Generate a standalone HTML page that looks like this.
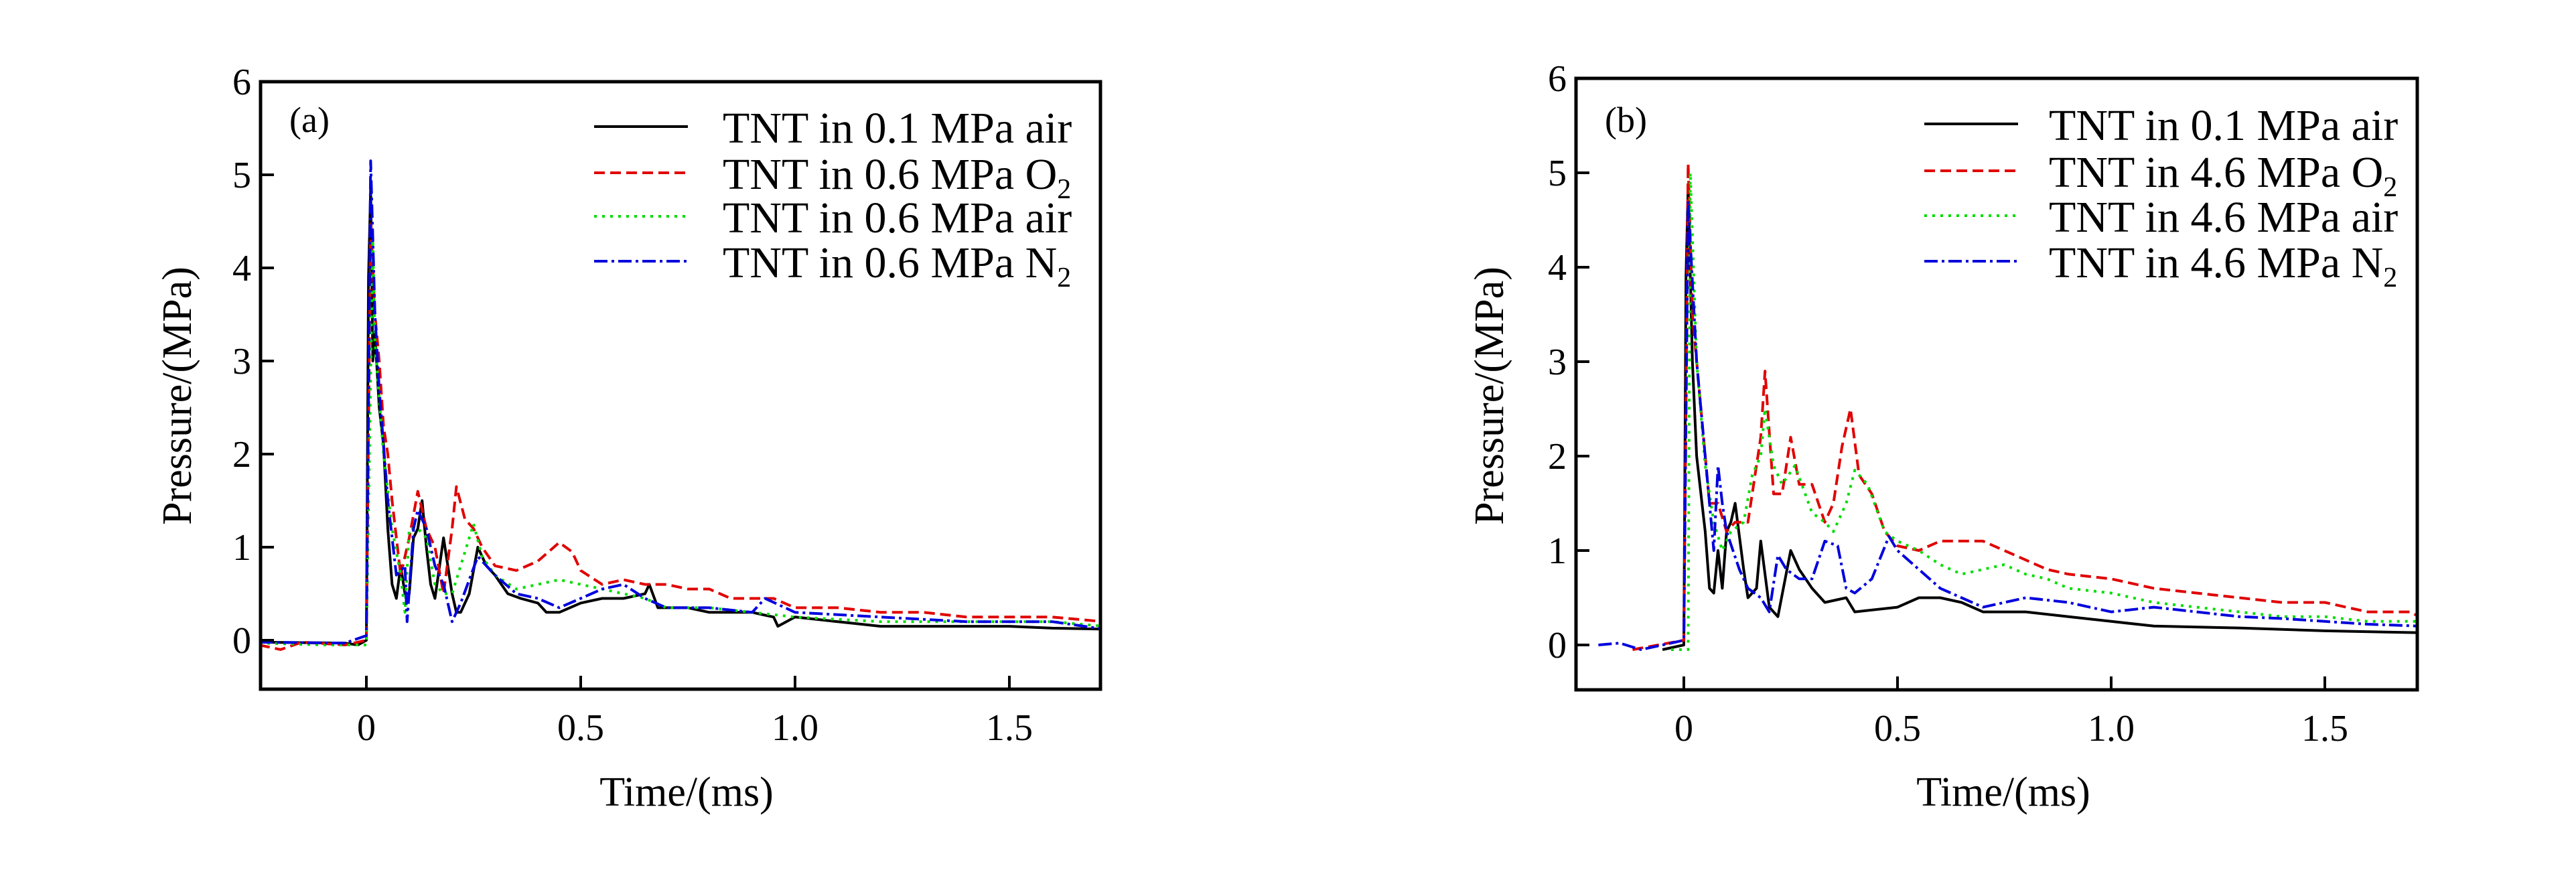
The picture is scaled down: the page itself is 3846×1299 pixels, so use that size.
<!DOCTYPE html>
<html><head><meta charset="utf-8"><style>
html,body{margin:0;padding:0;background:#fff;}
svg{display:block;}
svg text{font-family:"Liberation Serif","DejaVu Serif",serif;}
</style></head><body>
<svg id="fig" width="3846" height="1299" viewBox="0 0 3846 1299" xmlns="http://www.w3.org/2000/svg"></svg>
<script>
const xTicks=[0,0.5,1.0,1.5];
const xTickLabels=["0","0.5","1.0","1.5"];
const yTicks=[0,1,2,3,4,5,6];
const yTickLabels=["0","1","2","3","4","5","6"];
const legendA=["TNT in 0.1 MPa air","TNT in 0.6 MPa O","TNT in 0.6 MPa air","TNT in 0.6 MPa N"];
const legendB=["TNT in 0.1 MPa air","TNT in 4.6 MPa O","TNT in 4.6 MPa air","TNT in 4.6 MPa N"];
const legendSub=["","2","","2"];

const blackA=[[-0.25,-0.02],[-0.05,-0.03],[-0.02,-0.05],[0,0],[0.005,3.9],[0.01,4.85],[0.015,3.0],[0.02,3.3],[0.03,2.5],[0.04,2.1],[0.05,1.2],[0.06,0.6],[0.07,0.45],[0.08,0.8],[0.09,0.5],[0.1,0.5],[0.11,1.1],[0.12,1.2],[0.13,1.5],[0.14,1.0],[0.15,0.6],[0.16,0.45],[0.18,1.1],[0.19,0.8],[0.2,0.5],[0.21,0.3],[0.22,0.3],[0.24,0.5],[0.26,1.0],[0.28,0.8],[0.3,0.7],[0.33,0.5],[0.36,0.45],[0.4,0.4],[0.42,0.3],[0.45,0.3],[0.5,0.4],[0.55,0.45],[0.6,0.45],[0.65,0.5],[0.66,0.6],[0.68,0.35],[0.75,0.35],[0.8,0.3],[0.85,0.3],[0.9,0.3],[0.95,0.25],[0.96,0.15],[1.0,0.25],[1.1,0.2],[1.2,0.15],[1.3,0.15],[1.4,0.15],[1.5,0.15],[1.6,0.13],[1.72,0.12]];
const redA=[[-0.25,-0.05],[-0.2,-0.1],[-0.15,-0.02],[-0.05,-0.05],[0,0],[0.01,4.5],[0.02,3.5],[0.03,3.0],[0.04,2.3],[0.05,2.0],[0.06,1.5],[0.08,0.7],[0.1,1.1],[0.12,1.6],[0.14,1.2],[0.16,1.0],[0.18,0.5],[0.2,1.2],[0.21,1.65],[0.23,1.3],[0.25,1.2],[0.27,1.0],[0.3,0.8],[0.35,0.75],[0.4,0.85],[0.45,1.05],[0.48,0.95],[0.5,0.75],[0.55,0.6],[0.6,0.65],[0.65,0.6],[0.7,0.6],[0.75,0.55],[0.8,0.55],[0.85,0.45],[0.9,0.45],[0.95,0.45],[1.0,0.35],[1.1,0.35],[1.2,0.3],[1.3,0.3],[1.4,0.25],[1.5,0.25],[1.6,0.25],[1.72,0.2]];
const greenA=[[-0.25,-0.03],[-0.1,-0.05],[0,-0.05],[0.015,4.3],[0.02,3.2],[0.04,2.0],[0.06,1.2],[0.08,0.7],[0.09,0.3],[0.1,1.2],[0.12,1.2],[0.14,1.1],[0.16,0.6],[0.18,0.5],[0.2,0.5],[0.22,0.8],[0.25,1.25],[0.27,0.9],[0.3,0.7],[0.35,0.55],[0.4,0.6],[0.45,0.65],[0.5,0.6],[0.55,0.55],[0.6,0.5],[0.65,0.45],[0.7,0.35],[0.8,0.35],[0.9,0.3],[1.0,0.25],[1.2,0.2],[1.4,0.2],[1.6,0.2],[1.72,0.15]];
const blueA=[[-0.25,-0.02],[-0.05,-0.03],[0,0.05],[0.01,5.15],[0.02,3.5],[0.03,2.7],[0.05,1.5],[0.07,0.7],[0.09,0.8],[0.095,0.2],[0.11,1.2],[0.12,1.4],[0.14,1.2],[0.16,0.8],[0.18,0.6],[0.2,0.2],[0.22,0.4],[0.26,0.9],[0.3,0.7],[0.35,0.5],[0.4,0.45],[0.45,0.35],[0.5,0.45],[0.55,0.55],[0.6,0.6],[0.65,0.45],[0.7,0.35],[0.8,0.35],[0.9,0.3],[0.93,0.45],[1.0,0.3],[1.2,0.25],[1.4,0.2],[1.6,0.2],[1.72,0.12]];

const blackB=[[-0.05,-0.05],[0,0],[0.005,3.9],[0.01,4.85],[0.02,3.0],[0.03,2.0],[0.05,1.2],[0.06,0.6],[0.07,0.55],[0.08,1.0],[0.09,0.6],[0.1,1.2],[0.11,1.3],[0.12,1.5],[0.14,0.8],[0.15,0.5],[0.17,0.6],[0.18,1.1],[0.2,0.4],[0.22,0.3],[0.25,1.0],[0.27,0.8],[0.3,0.6],[0.33,0.45],[0.38,0.5],[0.4,0.35],[0.5,0.4],[0.55,0.5],[0.6,0.5],[0.65,0.45],[0.7,0.35],[0.8,0.35],[0.9,0.3],[1.0,0.25],[1.1,0.2],[1.3,0.18],[1.5,0.15],[1.72,0.13]];
const redB=[[-0.12,-0.05],[0,0.05],[0.01,5.1],[0.02,3.5],[0.04,2.5],[0.06,1.5],[0.08,1.5],[0.1,1.2],[0.12,1.3],[0.15,1.3],[0.18,2.2],[0.19,2.9],[0.21,1.6],[0.23,1.6],[0.25,2.2],[0.27,1.7],[0.3,1.7],[0.33,1.3],[0.35,1.5],[0.37,2.1],[0.39,2.5],[0.41,1.8],[0.44,1.6],[0.47,1.2],[0.5,1.05],[0.55,1.0],[0.6,1.1],[0.7,1.1],[0.75,1.0],[0.8,0.9],[0.85,0.8],[0.9,0.75],[1.0,0.7],[1.1,0.6],[1.2,0.55],[1.3,0.5],[1.4,0.45],[1.5,0.45],[1.6,0.35],[1.7,0.35],[1.72,0.3]];
const greenB=[[-0.03,-0.05],[0.01,-0.05],[0.015,5.0],[0.03,3.0],[0.05,1.9],[0.07,1.3],[0.09,1.0],[0.11,1.2],[0.14,1.3],[0.16,1.8],[0.18,2.0],[0.19,2.5],[0.21,1.9],[0.23,1.7],[0.26,1.9],[0.3,1.4],[0.33,1.3],[0.35,1.2],[0.38,1.5],[0.4,1.85],[0.43,1.7],[0.47,1.2],[0.5,1.1],[0.55,1.0],[0.6,0.85],[0.65,0.75],[0.7,0.8],[0.75,0.85],[0.8,0.75],[0.85,0.7],[0.9,0.6],[1.0,0.55],[1.1,0.45],[1.2,0.4],[1.3,0.35],[1.4,0.3],[1.5,0.3],[1.6,0.25],[1.72,0.25]];
const blueB=[[-0.2,0.0],[-0.15,0.02],[-0.1,-0.05],[0,0.05],[0.01,4.7],[0.03,3.0],[0.05,2.0],[0.07,1.0],[0.08,1.9],[0.09,1.5],[0.1,1.2],[0.13,0.8],[0.15,0.6],[0.18,0.5],[0.2,0.35],[0.22,0.95],[0.24,0.8],[0.27,0.7],[0.3,0.7],[0.33,1.1],[0.36,1.05],[0.38,0.6],[0.4,0.55],[0.44,0.7],[0.48,1.15],[0.5,1.0],[0.55,0.8],[0.6,0.6],[0.65,0.5],[0.7,0.4],[0.8,0.5],[0.9,0.45],[1.0,0.35],[1.1,0.4],[1.2,0.35],[1.3,0.3],[1.4,0.28],[1.5,0.25],[1.6,0.22],[1.72,0.2]];

const NS="http://www.w3.org/2000/svg";
const svg=document.getElementById('fig');
const FF='"Liberation Serif", "DejaVu Serif", serif';
function mk(tag,attrs,parent){const e=document.createElementNS(NS,tag);for(const k in attrs)e.setAttribute(k,attrs[k]);if(tag==='text')e.setAttribute('font-family',FF);(parent||svg).appendChild(e);return e;}
const styles=[
 {c:"#000",d:"none",n:"black"},
 {c:"#e00000",d:"16,8",n:"red"},
 {c:"#00dd00",d:"4,8",n:"green"},
 {c:"#0000dd",d:"20,6,4,6",n:"blue"}];

function panel(cfg){
 const g=mk('g',{});
 
 
 const L=cfg.L,R=cfg.R,T=cfg.T,B=cfg.B,x0=cfg.x0,xs=cfg.xs,y0=cfg.y0,ys=cfg.ys;
 const X=t=>x0+t*xs, Y=p=>y0-p*ys;
 const clip=mk('clipPath',{id:'clip'+cfg.id},g);
 mk('rect',{x:L,y:T,width:R-L,height:B-T},clip);
 cfg.series.forEach((s,i)=>{
  const st=styles[i];
  const pl=mk('polyline',{points:s.map(q=>X(q[0]).toFixed(1)+','+Y(q[1]).toFixed(1)).join(' '),fill:'none',stroke:st.c,'stroke-width':4,'stroke-dasharray':st.d,'stroke-linejoin':'round','clip-path':'url(#clip'+cfg.id+')'},g);
  
  
 });
 const fr=mk('rect',{x:L,y:T,width:R-L,height:B-T,fill:'none',stroke:'#000','stroke-width':5},g);
 
 
 xTicks.forEach((t,i)=>{
  mk('line',{x1:X(t),x2:X(t),y1:B,y2:B-20,stroke:'#000','stroke-width':4},g);
  const tx=mk('text',{x:X(t),y:B+76,'font-size':56,'text-anchor':'middle'},g);
  tx.textContent=xTickLabels[i];
  
  
 });
 yTicks.forEach((p,i)=>{
  mk('line',{x1:L,x2:L+20,y1:Y(p),y2:Y(p),stroke:'#000','stroke-width':4},g);
  const tx=mk('text',{x:L-14,y:Y(p)+19,'font-size':56,'text-anchor':'end'},g);
  tx.textContent=yTickLabels[i];
  
  
 });
 const xt=mk('text',{x:cfg.xtx,y:1203,'font-size':62,'text-anchor':'middle'},g);
 xt.textContent="Time/(ms)";
 
 
 const yt=mk('text',{x:0,y:0,'font-size':62,'text-anchor':'middle',transform:'translate('+(cfg.ytx+22)+',591) rotate(-90)'},g);
 yt.textContent="Pressure/(MPa)";
 
 
 const lb=mk('text',{x:cfg.labX,y:197,'font-size':54},g);
 lb.textContent=cfg.label;
 
 
 cfg.legend.forEach((txt,i)=>{
  const st=styles[i];const ry=cfg.legY[i];
  const ll=mk('line',{x1:cfg.legX1,x2:cfg.legX2,y1:ry,y2:ry,stroke:st.c,'stroke-width':4,'stroke-dasharray':st.d},g);
  
  
  const t=mk('text',{x:cfg.legTx,y:ry+24,'font-size':66},g);
  
  
  t.appendChild(document.createTextNode(txt));
  if(legendSub[i]){const s=mk('tspan',{'font-size':42,dy:14},t);s.textContent=legendSub[i];}
 });
}
panel({id:'a',L:389,R:1643,T:122,B:1029,x0:547,xs:640,y0:956,ys:139,xtx:1025,ytx:263,label:"(a)",labX:432,
 legX1:887,legX2:1027,legTx:1079,legY:[189,258,323,390],legend:legendA,series:[blackA,redA,greenA,blueA]});
panel({id:'b',L:2353,R:3609,T:117,B:1030,x0:2514,xs:638,y0:963,ys:141,xtx:2991,ytx:2222,label:"(b)",labX:2396,
 legX1:2873,legX2:3013,legTx:3059,legY:[185,255,322,390],legend:legendB,series:[blackB,redB,greenB,blueB]});
</script>
</body></html>
